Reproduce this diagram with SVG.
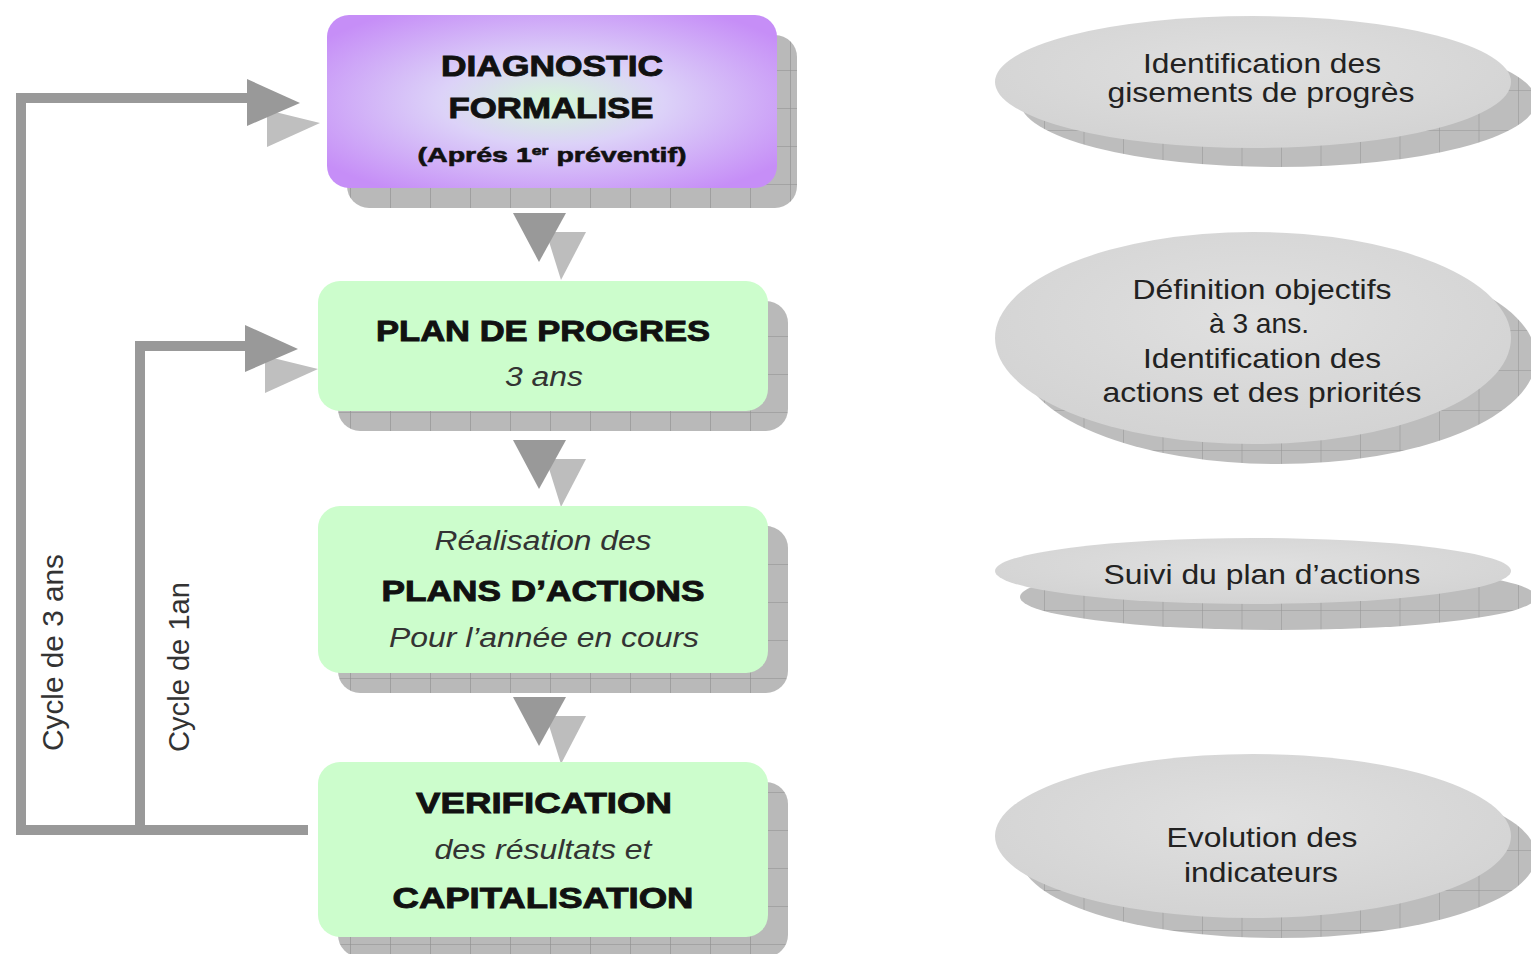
<svg xmlns="http://www.w3.org/2000/svg" width="1531" height="954" viewBox="0 0 1531 954">
  <defs>
    <radialGradient id="diagFill" cx="0.5" cy="0.5" r="0.62">
      <stop offset="0" stop-color="#d4f8d6"/>
      <stop offset="0.4" stop-color="#dcd2f8"/>
      <stop offset="1" stop-color="#c68ef7"/>
    </radialGradient>
    <radialGradient id="discFill" cx="0.5" cy="0.4" r="0.6">
      <stop offset="0" stop-color="#e0e0e0"/>
      <stop offset="1" stop-color="#d3d3d3"/>
    </radialGradient>
    <pattern id="gridBox" x="30" y="32" width="40" height="38" patternUnits="userSpaceOnUse">
      <rect width="40" height="38" fill="#b9b9b9"/>
      <path d="M0 0 V38 M0 0 H40" stroke="#8e8e8e" stroke-width="1.2" fill="none"/>
    </pattern>
    <pattern id="gridDisc" x="17" y="10" width="39.5" height="40" patternUnits="userSpaceOnUse">
      <rect width="39.5" height="40" fill="#bdbdbd"/>
      <path d="M0 0 V40 M0 0 H39.5" stroke="#969696" stroke-width="1.1" fill="none"/>
    </pattern>
    <g id="downArrow">
      <polygon points="33,19 73,19 48,67" fill="#bdbdbd"/>
      <polygon points="0,0 53,0 26,49" fill="#999999"/>
    </g>
    <g id="rightArrow">
      <polygon points="20,31 20,68 73,44" fill="#bfbfbf"/>
      <polygon points="0,0 0,47 53,24" fill="#999999"/>
    </g>
  </defs>
  <style>
    .shadow { fill: url(#gridBox); }
    .disc-shadow { fill: url(#gridDisc); }
    .disc { fill: url(#discFill); }
    .box { fill: #ccfdcc; }
    .bold { font-family: "Liberation Sans", Arial, sans-serif; font-weight: bold; font-size: 29px; fill: #111; stroke: #111; stroke-width: 0.9; text-anchor: middle; }
    .ital { font-family: "Liberation Sans", Arial, sans-serif; font-style: italic; font-size: 27px; fill: #333; text-anchor: middle; }
    .note { font-family: "Liberation Sans", Arial, sans-serif; font-size: 28px; fill: #222; text-anchor: middle; }
    .cycle { font-family: "Liberation Sans", Arial, sans-serif; font-size: 29px; fill: #333; }
    .link { fill: none; stroke: #999999; stroke-width: 10; stroke-linejoin: miter; }
  </style>

  <rect width="1531" height="954" fill="#ffffff"/>

  <!-- feedback loops and flow arrows -->
  <g id="connectors">
    <path class="link" d="M308 830 H21 V98 H252"/>
    <path class="link" d="M140 830 V346 H250"/>
    <use href="#rightArrow" x="247" y="79"/>
    <use href="#rightArrow" x="245" y="325"/>
    <use href="#downArrow" x="513" y="213"/>
    <use href="#downArrow" x="513" y="440"/>
    <use href="#downArrow" x="513" y="697"/>
    <text class="cycle" transform="translate(63,751) rotate(-90)" textLength="197" lengthAdjust="spacingAndGlyphs">Cycle de 3 ans</text>
    <text class="cycle" transform="translate(189,752) rotate(-90)" textLength="170" lengthAdjust="spacingAndGlyphs">Cycle de 1an</text>
  </g>

  <!-- process steps -->
  <g id="diagnostic">
    <rect class="shadow" x="347" y="35" width="450" height="173" rx="22"/>
    <rect x="327" y="15" width="450" height="173" rx="22" fill="url(#diagFill)"/>
    <text class="bold" x="552" y="76" textLength="222" lengthAdjust="spacingAndGlyphs">DIAGNOSTIC</text>
    <text class="bold" x="551" y="118" textLength="205" lengthAdjust="spacingAndGlyphs">FORMALISE</text>
    <text class="bold" transform="translate(552,162) scale(1.36,1)" x="0" y="0" style="font-size:21px;stroke-width:0.6">(Aprés 1<tspan font-size="13" dy="-7">er</tspan><tspan dy="7"> préventif)</tspan></text>
  </g>

  <g id="plan-progres">
    <rect class="shadow" x="338" y="301" width="450" height="130" rx="22"/>
    <rect class="box" x="318" y="281" width="450" height="130" rx="22"/>
    <text class="bold" x="543" y="341" textLength="334" lengthAdjust="spacingAndGlyphs">PLAN DE PROGRES</text>
    <text class="ital" x="544" y="386" textLength="78" lengthAdjust="spacingAndGlyphs">3 ans</text>
  </g>

  <g id="plans-actions">
    <rect class="shadow" x="338" y="526" width="450" height="167" rx="22"/>
    <rect class="box" x="318" y="506" width="450" height="167" rx="22"/>
    <text class="ital" x="543" y="550" textLength="217" lengthAdjust="spacingAndGlyphs">Réalisation des</text>
    <text class="bold" x="543" y="601" textLength="323" lengthAdjust="spacingAndGlyphs">PLANS D’ACTIONS</text>
    <text class="ital" x="544" y="647" textLength="310" lengthAdjust="spacingAndGlyphs">Pour l’année en cours</text>
  </g>

  <g id="verification">
    <rect class="shadow" x="338" y="782" width="450" height="175" rx="22"/>
    <rect class="box" x="318" y="762" width="450" height="175" rx="22"/>
    <text class="bold" x="544" y="813" textLength="256" lengthAdjust="spacingAndGlyphs">VERIFICATION</text>
    <text class="ital" x="543" y="859" textLength="217" lengthAdjust="spacingAndGlyphs">des résultats et</text>
    <text class="bold" x="543" y="908" textLength="301" lengthAdjust="spacingAndGlyphs">CAPITALISATION</text>
  </g>

  <!-- outcome discs -->
  <g id="gisements">
    <ellipse class="disc-shadow" cx="1278" cy="101" rx="258" ry="66"/>
    <ellipse class="disc" cx="1253" cy="82" rx="258" ry="66"/>
    <text class="note" x="1262" y="73" textLength="238" lengthAdjust="spacingAndGlyphs">Identification des</text>
    <text class="note" x="1261" y="102" textLength="307" lengthAdjust="spacingAndGlyphs">gisements de progrès</text>
  </g>

  <g id="objectifs">
    <ellipse class="disc-shadow" cx="1278" cy="358" rx="258" ry="106"/>
    <ellipse class="disc" cx="1253" cy="338" rx="258" ry="106"/>
    <text class="note" x="1262" y="299" textLength="259" lengthAdjust="spacingAndGlyphs">Définition objectifs</text>
    <text class="note" x="1259" y="333" textLength="100" lengthAdjust="spacingAndGlyphs">à 3 ans.</text>
    <text class="note" x="1262" y="368" textLength="238" lengthAdjust="spacingAndGlyphs">Identification des</text>
    <text class="note" x="1262" y="402" textLength="319" lengthAdjust="spacingAndGlyphs">actions et des priorités</text>
  </g>

  <g id="suivi">
    <ellipse class="disc-shadow" cx="1278" cy="597" rx="258" ry="33"/>
    <ellipse class="disc" cx="1253" cy="571" rx="258" ry="33"/>
    <text class="note" x="1262" y="584" textLength="317" lengthAdjust="spacingAndGlyphs">Suivi du plan d’actions</text>
  </g>

  <g id="indicateurs">
    <ellipse class="disc-shadow" cx="1278" cy="856" rx="258" ry="82"/>
    <ellipse class="disc" cx="1253" cy="836" rx="258" ry="82"/>
    <text class="note" x="1262" y="847" textLength="191" lengthAdjust="spacingAndGlyphs">Evolution des</text>
    <text class="note" x="1261" y="882" textLength="154" lengthAdjust="spacingAndGlyphs">indicateurs</text>
  </g>
</svg>
